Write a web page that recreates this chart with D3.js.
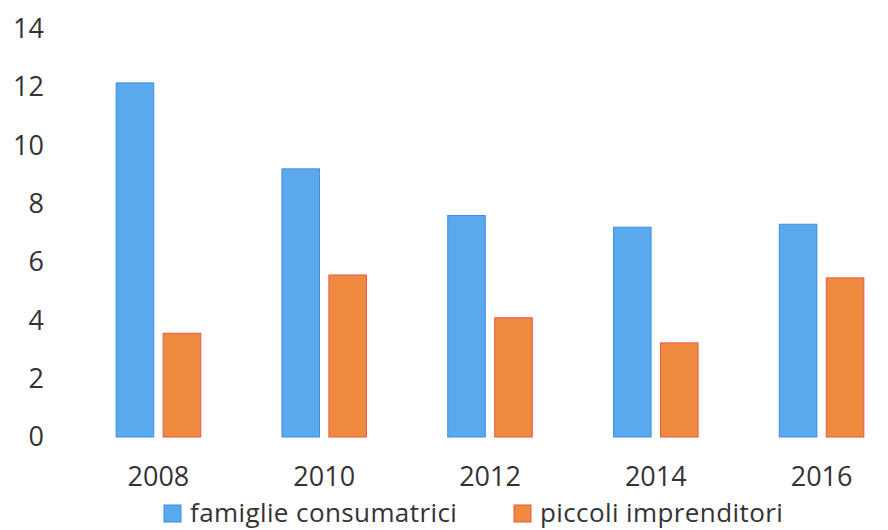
<!DOCTYPE html>
<html>
<head>
<meta charset="utf-8">
<script src="https://cdn.jsdelivr.net/npm/d3@7"></script>
<style>
  body { margin: 0; background: #fff; }
  svg { display: block; }
</style>
</head>
<body>
<div class="responsive-svg-container"></div>
<script>
const years = ["2008", "2010", "2012", "2014", "2016"];
const famiglie = [12.15, 9.2, 7.6, 7.2, 7.3];
const imprenditori = [3.56, 5.56, 4.09, 3.23, 5.46];
const yTicks = [0, 2, 4, 6, 8, 10, 12, 14];
const seriesNames = ["famiglie consumatrici", "piccoli imprenditori"];

const width = 888;
const height = 530;
const fill = ["#5aa8ee", "#f08a3e"];
const stroke = ["#3f8fdc", "#e5584a"];

const svg = d3.select(".responsive-svg-container")
  .append("svg")
  .attr("width", width)
  .attr("height", height)
  .attr("viewBox", `0 0 ${width} ${height}`);

const data = years.map((y, i) => ({ year: y, values: [famiglie[i], imprenditori[i]] }));

const xScale = d3.scaleBand()
  .domain(years)
  .range([83, 897])
  .paddingInner(0.49)
  .paddingOuter(0.2);

const xSub = d3.scaleBand()
  .domain([0, 1])
  .range([0, xScale.bandwidth()])
  .paddingInner(0.2);

const yScale = d3.scaleLinear()
  .domain([0, 14])
  .range([437, 29]);

// y labels, no axis line
const yAxis = svg.append("g")
  .attr("transform", "translate(44,0)")
  .call(d3.axisLeft(yScale).tickValues(yTicks).tickSize(0).tickPadding(0));
yAxis.select(".domain").remove();
yAxis.selectAll("text")
  .style("font-family", "'Open Sans', sans-serif")
  .style("font-size", "27px")
  .attr("fill", "#333");

const groups = svg.selectAll("g.year")
  .data(data)
  .join("g")
  .attr("class", "year")
  .attr("transform", d => `translate(${xScale(d.year)},0)`);

groups.selectAll("rect")
  .data(d => d.values.map((v, k) => ({ k, v })))
  .join("rect")
  .attr("x", d => xSub(d.k))
  .attr("y", d => yScale(d.v))
  .attr("width", xSub.bandwidth())
  .attr("height", d => yScale(0) - yScale(d.v))
  .attr("fill", d => fill[d.k])
  .attr("stroke", d => stroke[d.k])
  .attr("stroke-width", 1);

// x labels
const xAxis = svg.append("g")
  .attr("transform", `translate(0,${yScale(0)})`)
  .call(d3.axisBottom(xScale).tickSize(0).tickPadding(30));
xAxis.select(".domain").remove();
xAxis.selectAll("text")
  .style("font-family", "'Open Sans', sans-serif")
  .style("font-size", "27px")
  .attr("fill", "#333");

// legend
const legendX = [164, 514];
const legend = svg.selectAll("g.legend")
  .data(seriesNames)
  .join("g")
  .attr("class", "legend")
  .attr("transform", (d, i) => `translate(${legendX[i]},505)`);

legend.append("rect")
  .attr("width", 17)
  .attr("height", 17)
  .attr("fill", (d, i) => fill[i])
  .attr("stroke", (d, i) => stroke[i])
  .attr("stroke-width", 1);

legend.append("text")
  .text(d => d)
  .attr("x", 26)
  .attr("y", 17)
  .style("font-family", "'Open Sans', sans-serif")
  .style("font-size", "26px")
  .style("letter-spacing", "0.4px")
  .attr("fill", "#333");
</script>
</body>
</html>
